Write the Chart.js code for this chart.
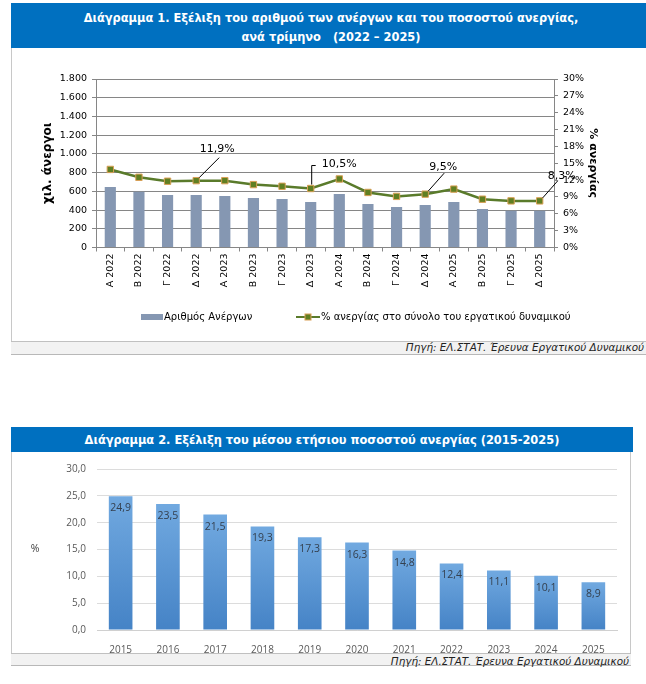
<!DOCTYPE html>
<html>
<head>
<meta charset="utf-8">
<script src="https://cdn.jsdelivr.net/npm/chart.js"></script>
<style>
  body { margin: 0; background: #fff; overflow: hidden; width: 646px; height: 684px; position: relative; }
  .head { position: absolute; background: #0070c0; color: #fff; text-align: center;
          font: bold 12.7px "DejaVu Sans Condensed", "DejaVu Sans", sans-serif; }
  .panel { position: absolute; border-left: 1px solid #c8c8c8; box-sizing: border-box; }
  .foot { position: absolute; background: #f2f2f2; border-top: 1px solid #c0c0c0; border-bottom: 1px solid #b8b8b8;
          box-sizing: border-box; text-align: right; font: italic 10.4px "DejaVu Sans", sans-serif; color: #222; line-height: 11px; }
  canvas { position: absolute; }
</style>
</head>
<body>
<div class="head" style="left:11px; top:3px; width:640px; height:45px; line-height:19px; padding-top:5px; box-sizing:border-box;">
  Διάγραμμα 1. Εξέλιξη του αριθμού των ανέργων και του ποσοστού ανεργίας,<br>ανά τρίμηνο&nbsp;&nbsp;&nbsp;(2022 – 2025)
</div>
<div class="panel" style="left:11px; top:48px; width:640px; height:306px;"></div>
<canvas id="c1" width="635" height="293" style="left:11px; top:48px;"></canvas>
<div class="foot" style="left:11px; top:341px; width:640px; height:14px; padding-right:7px;">Πηγή: ΕΛ.ΣΤΑΤ. Έρευνα Εργατικού Δυναμικού</div>

<div class="head" style="left:11px; top:427px; width:622px; height:25px; line-height:25px;">
  Διάγραμμα 2. Εξέλιξη του μέσου ετήσιου ποσοστού ανεργίας (2015-2025)
</div>
<div class="panel" style="left:11px; top:452px; width:620px; height:213px; border-right:1px solid #c8c8c8;"></div>
<canvas id="c2" width="619" height="201" style="left:11px; top:452px;"></canvas>
<div class="foot" style="left:11px; top:653px; width:620px; height:13px; padding-right:2px; line-height:15px;">Πηγή: ΕΛ.ΣΤΑΤ. Έρευνα Εργατικού Δυναμικού</div>

<script>
// Diagram 1 - quarterly data
var quarters = ['Α 2022', 'Β 2022', 'Γ 2022', 'Δ 2022', 'Α 2023', 'Β 2023', 'Γ 2023', 'Δ 2023',
                'Α 2024', 'Β 2024', 'Γ 2024', 'Δ 2024', 'Α 2025', 'Β 2025', 'Γ 2025', 'Δ 2025'];
var unemployed = [645, 595, 560, 560, 550, 528, 518, 486, 571, 465, 433, 454, 486, 411, 393, 393];
var rate = [13.9, 12.5, 11.8, 11.9, 11.9, 11.2, 10.9, 10.5, 12.2, 9.8, 9.1, 9.5, 10.4, 8.6, 8.3, 8.3];
var labelledPoints = [3, 7, 11, 15];

// Diagram 2 - yearly average
var years = ['2015', '2016', '2017', '2018', '2019', '2020', '2021', '2022', '2023', '2024', '2025'];
var yearlyRate = [24.9, 23.5, 21.5, 19.3, 17.3, 16.3, 14.8, 12.4, 11.1, 10.1, 8.9];

var gridGrey = '#868686';
var tickFont = { family: 'DejaVu Sans', size: 9.5 };

function greekThousands(v) {
	if (v < 1000) return String(v);
	var rest = String(v % 1000);
	while (rest.length < 3) rest = '0' + rest;
	return Math.floor(v / 1000) + '.' + rest;
}
function comma(v, d) {
	return v.toFixed(d).replace('.', ',');
}

// leader lines + labels for Q4 values
var calloutPlugin = {
	id: 'callouts',
	afterDatasetsDraw: function(chart) {
		var ctx = chart.ctx;
		var meta = chart.getDatasetMeta(1);
		// offsets from the point: text x, text y, line start x, line start y
		var offs = {
			3: [21, -32, 23, -23, 'c'],
			7: [11, -24, 0, -23, 'elbow'],
			11: [18, -27, 19, -21, 'c'],
			15: [22, -25, 18, -20, 'c']
		};
		ctx.save();
		ctx.strokeStyle = '#000';
		ctx.lineWidth = 1;
		ctx.fillStyle = '#000';
		ctx.font = '11px "DejaVu Sans"';
		ctx.textBaseline = 'middle';
		labelledPoints.forEach(function(i) {
			var p = meta.data[i];
			var o = offs[i];
			ctx.beginPath();
			if (o[4] == 'elbow') {
				ctx.moveTo(p.x + 5, p.y + o[3]);
				ctx.lineTo(p.x + 1, p.y + o[3]);
				ctx.lineTo(p.x + 1, p.y - 4);
				ctx.stroke();
				ctx.textAlign = 'left';
			} else {
				ctx.moveTo(p.x + o[2], p.y + o[3]);
				ctx.lineTo(p.x + 3, p.y - 3);
				ctx.stroke();
				ctx.textAlign = 'center';
			}
			ctx.fillText(comma(rate[i], 1) + '%', p.x + o[0], p.y + o[1]);
		});
		ctx.restore();
	}
};

var legendPlugin = {
	id: 'legendRow',
	afterDraw: function(chart) {
		var ctx = chart.ctx;
		var ds = chart.data.datasets;
		var y = 269;
		ctx.save();
		ctx.font = '10px "DejaVu Sans"';
		ctx.textBaseline = 'middle';
		ctx.textAlign = 'left';
		ctx.fillStyle = ds[0].backgroundColor;
		ctx.fillRect(130, y - 3, 22, 6);
		ctx.fillStyle = '#000';
		ctx.fillText(ds[0].label, 153, y);
		ctx.strokeStyle = ds[1].borderColor;
		ctx.lineWidth = 2;
		ctx.beginPath();
		ctx.moveTo(285, y);
		ctx.lineTo(309, y);
		ctx.stroke();
		ctx.fillStyle = ds[1].pointBackgroundColor;
		ctx.strokeStyle = ds[1].pointBorderColor;
		ctx.lineWidth = 1;
		ctx.fillRect(294, y - 3, 6, 6);
		ctx.strokeRect(294, y - 3, 6, 6);
		ctx.fillStyle = '#000';
		ctx.fillText(ds[1].label, 310, y);
		ctx.restore();
	}
};

var barLabelPlugin = {
	id: 'barLabels',
	afterDatasetsDraw: function(chart) {
		var ctx = chart.ctx;
		var meta = chart.getDatasetMeta(0);
		ctx.save();
		ctx.font = '10.5px "Open Sans"';
		ctx.fillStyle = '#34404f';
		ctx.textAlign = 'center';
		ctx.textBaseline = 'middle';
		meta.data.forEach(function(bar, i) {
			ctx.fillText(comma(yearlyRate[i], 1), bar.x, bar.y + 12);
		});
		ctx.restore();
	}
};

var percentSign = {
	id: 'percentSign',
	afterDraw: function(chart) {
		var ctx = chart.ctx;
		ctx.save();
		ctx.font = '10.5px "Open Sans"';
		ctx.fillStyle = '#404040';
		ctx.textAlign = 'center';
		ctx.textBaseline = 'middle';
		ctx.fillText('%', 24, (chart.chartArea.top + chart.chartArea.bottom) / 2);
		ctx.restore();
	}
};

function barGradient(context) {
	var chart = context.chart;
	var area = chart.chartArea;
	if (!area || context.type != 'data') return '#5b97d5';
	var top = chart.scales.y.getPixelForValue(context.raw);
	var g = chart.ctx.createLinearGradient(0, top, 0, area.bottom);
	g.addColorStop(0, '#71a9e0');
	g.addColorStop(1, '#4583c6');
	return g;
}

window.onload = function() {
	new Chart(document.getElementById('c1').getContext('2d'), {
		type: 'bar',
		data: {
			labels: quarters,
			datasets: [{
				label: 'Αριθμός Ανέργων',
				data: unemployed,
				backgroundColor: '#8597b2',
				yAxisID: 'y',
				barPercentage: 0.39,
				categoryPercentage: 1,
				order: 1
			}, {
				type: 'line',
				label: '% ανεργίας στο σύνολο του εργατικού δυναμικού',
				data: rate,
				yAxisID: 'y1',
				borderColor: '#5a7b2b',
				borderWidth: 2.5,
				pointStyle: 'rect',
				pointRadius: 4.5,
				pointBackgroundColor: '#607f22',
				pointBorderColor: '#d9a056',
				pointBorderWidth: 1,
				tension: 0,
				order: 0
			}]
		},
		options: {
			responsive: false,
			animation: false,
			layout: { padding: { top: 31, left: 0, right: 0, bottom: 0 } },
			plugins: { legend: { display: false }, tooltip: { enabled: false } },
			scales: {
				x: {
					grid: { drawOnChartArea: false, drawTicks: true, tickLength: 4, color: gridGrey, offset: true },
					border: { color: gridGrey },
					ticks: { font: tickFont, color: '#000', minRotation: 90, maxRotation: 90, padding: 2, autoSkip: false },
					afterFit: function(s) { s.height = 93.5; }
				},
				y: {
					position: 'left',
					min: 0, max: 1800,
					grid: { color: gridGrey, tickLength: 4 },
					border: { color: gridGrey },
					ticks: { stepSize: 200, font: tickFont, color: '#000', padding: 5,
						callback: function(v) { return greekThousands(v); } },
					title: { display: true, text: 'χιλ. άνεργοι', color: '#000',
						font: { family: 'DejaVu Sans', size: 12, weight: 'bold' }, padding: { top: 30, bottom: 0 } },
					afterFit: function(s) { s.width = 85; }
				},
				y1: {
					position: 'right',
					min: 0, max: 30,
					grid: { drawOnChartArea: false, color: gridGrey, tickLength: 4 },
					border: { color: gridGrey },
					ticks: { stepSize: 3, font: tickFont, color: '#000', padding: 5,
						callback: function(v) { return v + '%'; } },
					title: { display: true, text: '% ανεργίας', color: '#000',
						font: { family: 'DejaVu Sans', size: 11, weight: 'bold' }, padding: { top: 47, bottom: 0 } },
					afterFit: function(s) { s.width = 92; }
				}
			}
		},
		plugins: [calloutPlugin, legendPlugin]
	});

	new Chart(document.getElementById('c2').getContext('2d'), {
		type: 'bar',
		data: {
			labels: years,
			datasets: [{
				label: '%',
				data: yearlyRate,
				backgroundColor: barGradient,
				barPercentage: 0.5,
				categoryPercentage: 1
			}]
		},
		options: {
			responsive: false,
			animation: false,
			layout: { padding: { top: 10, left: 0, right: 13, bottom: 0 } },
			plugins: { legend: { display: false }, tooltip: { enabled: false } },
			scales: {
				x: {
					grid: { display: false },
					border: { color: '#d0d0d0' },
					ticks: { font: { family: 'Open Sans', size: 10 }, color: '#595959', padding: 6 },
					afterFit: function(s) { s.height = 23; }
				},
				y: {
					min: 0, max: 30,
					grid: { color: '#dcdcdc', drawTicks: false },
					border: { display: false },
					ticks: { stepSize: 5, font: { family: 'Open Sans', size: 10 }, color: '#595959', padding: 11,
						callback: function(v) { return comma(v, 1); } },
					afterFit: function(s) { s.width = 86; }
				}
			}
		},
		plugins: [barLabelPlugin, percentSign]
	});
};
</script>
</body>
</html>
